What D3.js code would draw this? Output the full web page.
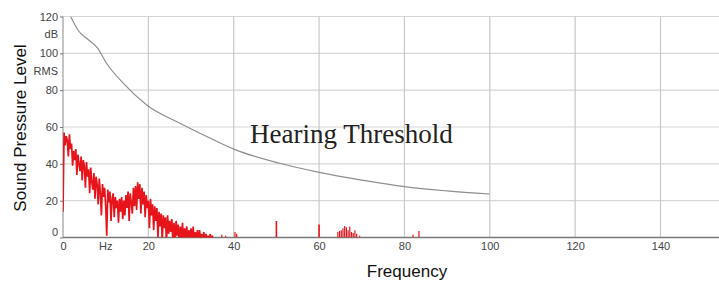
<!DOCTYPE html>
<html>
<head>
<meta charset="utf-8">
<script src="https://cdn.jsdelivr.net/npm/d3@7"></script>
<style>
	body { margin: 0; background: #fff; }
	svg { display: block; }
	.axis text { font-family: Arial, "Liberation Sans", sans-serif; font-size: 11px; fill: #444; }
	.axis line { stroke: #777; }
	.axis path { display: none; }
</style>
</head>
<body>
<svg id="chart"></svg>
<script>
// tick values and labels
var xTicks = [0, 20, 40, 60, 80, 100, 120, 140];
var yTicks = [0, 20, 40, 60, 80, 100, 120];
var xUnitValues = [10];
var xUnitText = ["Hz"];
var yUnitValues = [110, 90];
var yUnitText = ["dB", "RMS"];

// hearing threshold (Hz, dB)
var thresholdFreqs = [1.8, 3.7, 5.5, 8.1, 10.2, 14.1, 19.6, 27.4, 34.4, 40, 50.8, 60, 70, 80, 90, 100];
var thresholdLevels = [120, 112, 108.2, 102.8, 94.6, 83.8, 72, 62, 54, 48, 40.3, 35.4, 31.2, 27.6, 25.3, 23.6];

// measured spectrum, one value every 0.25 Hz from 0 Hz (4 per row = 1 Hz)
var specStep = 0.25;
var specLevels = [
	14, 57, 50, 55,   53, 44, 56, 48,   51, 39, 47, 42,   48, 34, 45, 40,
	36, 44, 31, 42,   39, 27, 41, 33,   37, 24, 38, 30,   26, 35, 21, 33,
	29, 18, 32, 24,   12, 29, 22, 27,   17, 1, 26, 19,    25, 9, 21, 24,
	11, 22, 16, 20,   8, 21, 14, 22,    10, 20, 12, 23,   16, 25, 9, 24,
	19, 13, 27, 17,   28, 15, 30, 21,   29, 13, 27, 18,   25, 11, 23, 16,
	20, 5, 21, 12,    18, 4, 17, 9,     16, 0, 14, 6,     13, -2, 12, 5,
	11, -3, 12, 2,    9, 3, 10, -3,     8, -3, 9, 1,      7, -3, 6, -2,
	8, -3, 5, 0,      6, -3, 4, -3,     5, -3, 6, -3,     3, -3, 4, -3,
	4, -3, 2, -3,     3, -3, 2, -3,     1, -3, 2, -3,     1, -3, -3, -3,
	-3
];

// isolated spectral lines above 36 Hz
var spikeFreqs = [37.2, 38.1, 40.3, 40.7, 50, 60, 64.4, 64.8, 65.2, 65.6, 66, 66.4, 66.8, 67.2, 67.6, 68, 68.4, 68.8, 69.5, 82, 83.4];
var spikeLevels = [1.5, 1, 3, 2, 9, 7, 3, 3.5, 4, 5, 6.3, 5.5, 4, 6, 3, 2.5, 4, 2, 1, 1.5, 3.5];

var drawChart = function() {

	var width = 719;
	var height = 282;

	var margin = {
		top : 16.5,
		left : 63,
		bottom : 237.5
	};

	var xScale = d3.scaleLinear()
		.domain([0, 140])
		.range([margin.left, 660.5]);

	var yScale = d3.scaleLinear()
		.domain([0, 120])
		.range([margin.bottom, margin.top]);

	var svg = d3.select('#chart')
		.attr("width", width)
		.attr("height", height);

	svg.append("defs").append("clipPath")
		.attr("id", "plot-clip")
		.append("rect")
		.attr("x", margin.left)
		.attr("y", margin.top)
		.attr("width", width - margin.left)
		.attr("height", margin.bottom - margin.top);

	// grid
	svg.append("g")
		.selectAll("line")
		.data(yTicks.filter(function(d) { return d > 0; }))
		.enter()
		.append("line")
		.attr("x1", margin.left)
		.attr("x2", width)
		.attr("y1", function(d) { return yScale(d); })
		.attr("y2", function(d) { return yScale(d); })
		.attr("stroke", "#d6d6d6")
		.attr("stroke-width", 1.2);

	svg.append("g")
		.selectAll("line")
		.data(xTicks.filter(function(d) { return d > 0; }))
		.enter()
		.append("line")
		.attr("x1", function(d) { return xScale(d); })
		.attr("x2", function(d) { return xScale(d); })
		.attr("y1", margin.top)
		.attr("y2", margin.bottom)
		.attr("stroke", "#c8c8c8")
		.attr("stroke-width", 1.2);

	// axis lines
	svg.append("line")
		.attr("x1", margin.left).attr("x2", margin.left)
		.attr("y1", margin.top).attr("y2", margin.bottom)
		.attr("stroke", "#888");
	svg.append("line")
		.attr("x1", margin.left).attr("x2", width)
		.attr("y1", margin.bottom).attr("y2", margin.bottom)
		.attr("stroke", "#777")
		.attr("stroke-width", 1.3);

	var yAxis = d3.axisLeft(yScale)
		.tickValues(yTicks)
		.tickSize(3)
		.tickPadding(2);

	var yAxisG = svg.append("g")
		.attr("class", "y axis")
		.attr("transform", "translate(" + margin.left + ",0)")
		.call(yAxis);
	yAxisG.selectAll(".tick")
		.filter(function(d) { return d === 0; })
		.select("text")
		.attr("dy", "-0.2em");

	svg.append("g")
		.attr("class", "y axis")
		.selectAll("text")
		.data(yUnitValues)
		.enter()
		.append("text")
		.attr("x", margin.left - 5)
		.attr("y", function(d) { return yScale(d); })
		.attr("dy", "0.32em")
		.attr("text-anchor", "end")
		.text(function(d, i) { return yUnitText[i]; });

	var xAxis = d3.axisBottom(xScale)
		.tickValues(xTicks)
		.tickSize(0)
		.tickPadding(5);

	svg.append("g")
		.attr("class", "x axis")
		.attr("transform", "translate(0," + margin.bottom + ")")
		.call(xAxis);

	svg.append("g")
		.attr("class", "x axis")
		.selectAll("text")
		.data(xUnitValues)
		.enter()
		.append("text")
		.attr("x", function(d) { return xScale(d); })
		.attr("y", margin.bottom + 5)
		.attr("dy", "0.71em")
		.attr("text-anchor", "middle")
		.text(function(d, i) { return xUnitText[i]; });

	// spectrum
	var plot = svg.append("g").attr("clip-path", "url(#plot-clip)");

	var specLine = d3.line()
		.x(function(d, i) { return xScale(i * specStep); })
		.y(function(d) { return yScale(d); });

	plot.append("path")
		.datum(specLevels)
		.attr("d", specLine)
		.attr("fill", "none")
		.attr("stroke", "#e8141c")
		.attr("stroke-width", 1.7)
		.attr("stroke-linejoin", "bevel");

	plot.selectAll(".spike")
		.data(spikeFreqs)
		.enter()
		.append("line")
		.attr("class", "spike")
		.attr("x1", function(d) { return xScale(d); })
		.attr("x2", function(d) { return xScale(d); })
		.attr("y1", yScale(0))
		.attr("y2", function(d, i) { return yScale(spikeLevels[i]); })
		.attr("stroke", "#e8141c")
		.attr("stroke-width", function(d) { return d === 50 || d === 60 ? 1.6 : 1.2; });

	// hearing threshold
	var threshLine = d3.line()
		.x(function(d) { return xScale(d); })
		.y(function(d, i) { return yScale(thresholdLevels[i]); })
		.curve(d3.curveMonotoneX);

	plot.append("path")
		.datum(thresholdFreqs)
		.attr("d", threshLine)
		.attr("fill", "none")
		.attr("stroke", "#8f8f8f")
		.attr("stroke-width", 1.2);

	svg.append("text")
		.attr("x", 250)
		.attr("y", 143)
		.style("font-family", "'Liberation Serif', 'Times New Roman', serif")
		.style("font-size", "27px")
		.attr("fill", "#222")
		.text("Hearing Threshold");

	// axis titles
	svg.append("text")
		.attr("transform", "translate(26,128) rotate(-90)")
		.attr("text-anchor", "middle")
		.style("font-family", "Arial, 'Liberation Sans', sans-serif")
		.style("font-size", "17px")
		.attr("fill", "#111")
		.text("Sound Pressure Level");

	svg.append("text")
		.attr("x", 407)
		.attr("y", 277)
		.attr("text-anchor", "middle")
		.style("font-family", "Arial, 'Liberation Sans', sans-serif")
		.style("font-size", "17px")
		.attr("fill", "#111")
		.text("Frequency");
}

drawChart();
</script>
</body>
</html>
